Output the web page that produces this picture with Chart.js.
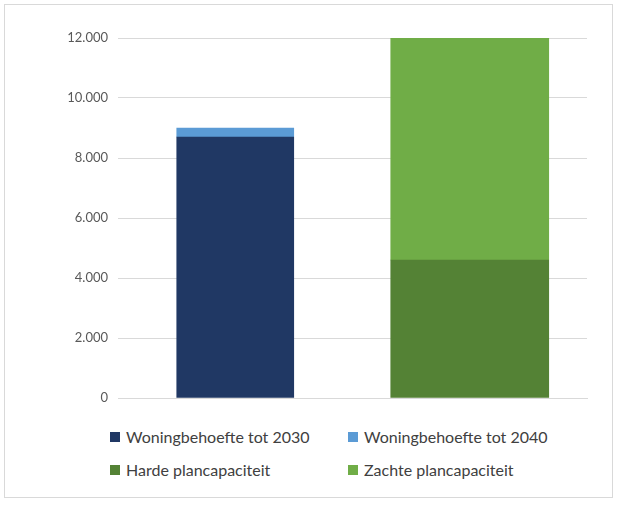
<!DOCTYPE html>
<html><head><meta charset="utf-8">
<script src="https://cdn.jsdelivr.net/npm/chart.js@4"></script>
<style>
body{margin:0;background:#fff;font-family:Lato,sans-serif;}
#frame{position:absolute;left:4px;top:4px;width:607px;height:492px;border:1px solid #d9d9d9;}
#wrap{position:absolute;left:0;top:0;width:617px;height:420px;}
.lg{position:absolute;font-size:16px;color:#404040;display:flex;align-items:center;white-space:nowrap;}
.lg span{display:inline-block;width:10px;height:10px;margin-right:6px;}
</style></head><body>
<div id="frame"></div>
<div id="wrap"><canvas id="c"></canvas></div>
<div id="legend"></div>
<script>
const categories = ["Woningbehoefte", "Plancapaciteit"];
const seriesNames = ["Woningbehoefte tot 2030", "Woningbehoefte tot 2040", "Harde plancapaciteit", "Zachte plancapaciteit"];
const behoefte2030 = [8700, null];
const behoefte2040 = [300, null];
const harde = [null, 4600];
const zachte = [null, 7470];
const yTicks = [0, 2000, 4000, 6000, 8000, 10000, 12000];
const colors = ["#203864", "#5b9bd5", "#548235", "#70ad47"];
const thick = [117, 117, 158, 158];
const values = [behoefte2030, behoefte2040, harde, zachte];

new Chart(document.getElementById('c'), {
  type: 'bar',
  data: {
    labels: categories,
    datasets: values.map((v, i) => ({label: seriesNames[i], data: v, backgroundColor: colors[i], barThickness: thick[i], borderWidth: 0}))
  },
  options: {
    responsive: true, maintainAspectRatio: false, animation: false,
    layout: {padding: {top: 38, bottom: 14, right: 30, left: 0}},
    plugins: {legend: {display: false}, tooltip: {enabled: false}},
    scales: {
      x: {stacked: true, grid: {display: false}, ticks: {display: false}, border: {color: '#d9d9d9'}},
      y: {stacked: true, min: 0, max: 12000, border: {display: false},
        grid: {color: '#d9d9d9', drawTicks: false},
        afterBuildTicks: ax => { ax.ticks = yTicks.map(v => ({value: v})); },
        afterFit: ax => { ax.width = 118; },
        ticks: {color: '#595959', font: {family: 'Lato', size: 13}, padding: 10,
          callback: v => v.toLocaleString('nl-NL')}}
    }
  }
});
const pos = [[110, 437], [348, 437], [110, 470], [348, 470]];
const lg = document.getElementById('legend');
seriesNames.forEach((n, i) => {
  const d = document.createElement('div');
  d.className = 'lg';
  d.style.left = pos[i][0] + 'px';
  d.style.top = (pos[i][1] - 10) + 'px';
  d.innerHTML = '<span style="background:' + colors[i] + '"></span>' + n;
  lg.appendChild(d);
});
</script>
</body></html>
